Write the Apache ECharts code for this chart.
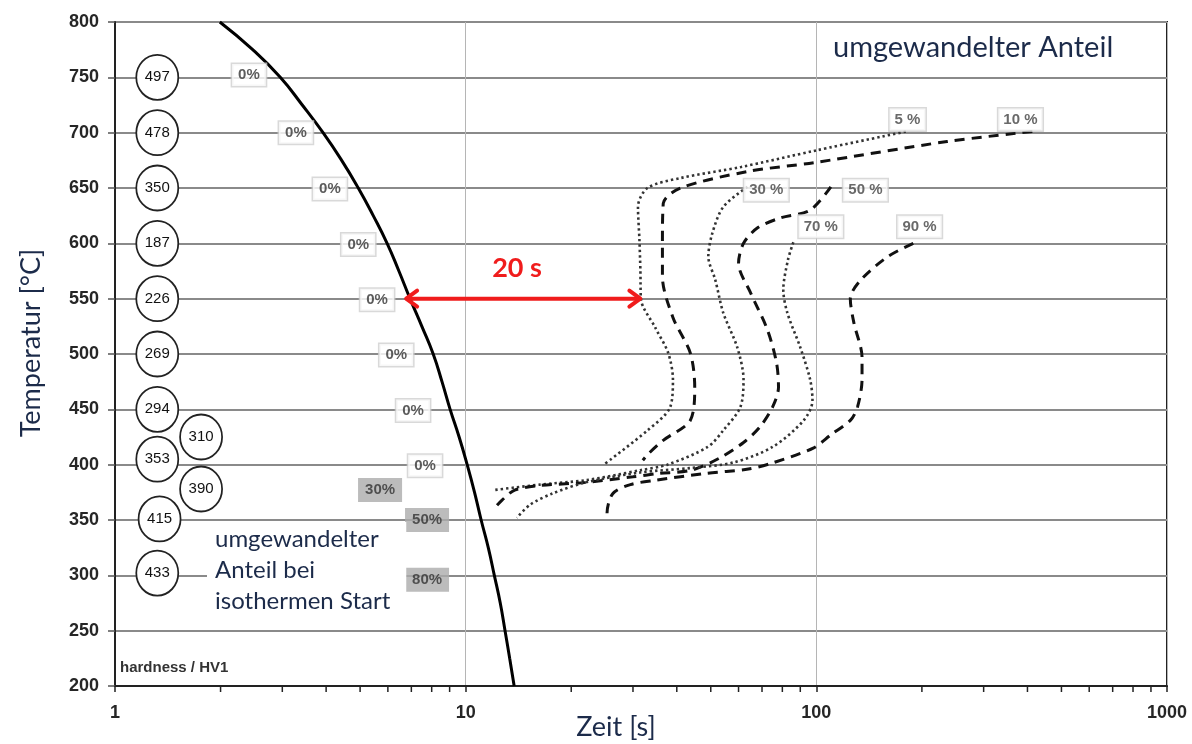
<!DOCTYPE html>
<html>
<head>
<meta charset="utf-8">
<script src="https://cdn.jsdelivr.net/npm/echarts@6/dist/echarts.min.js"></script>
<style>
  html, body { margin: 0; background: #fff; }
  #chart { width: 1192px; height: 744px; }
</style>
</head>
<body>
<div id="chart"></div>
<script>
  // Abkühlkurve (schwarz) und Umwandlungslinien, [Zeit s, Temperatur °C]
  const coolingCurve = [[1.99,800],[2.47,775],[2.96,750],[3.42,725],[3.92,700],[4.43,675],[4.94,650],[5.45,625],[5.97,600],[6.45,575],[6.94,550],[7.5,525],[8.08,500],[8.56,475],[9.03,450],[9.58,425],[10.1,400],[10.6,375],[11.07,350],[11.6,325],[12.07,300],[12.55,275],[12.95,250],[13.35,225],[13.75,200]];
  const curve5 = [[180,701],[100,684],[61,669],[41,659],[33,650],[31,633],[31.3,603],[31.5,575],[31.6,550],[34.7,524],[37.8,501],[39,477],[38.3,452],[33,431],[25,401]];
  const curve10 = [[413,701],[236,692],[99,673],[64,665],[41,650],[36.6,636],[36.4,600],[36.4,570],[39,533],[43.7,501],[45,470],[43.7,440],[36.6,422],[33,409],[32,404]];
  const curve30 = [[63.6,651],[54.3,633],[50.5,609],[49.2,588],[51.5,567],[54.3,537],[59.5,506],[62,477],[60.7,452],[54.3,431],[49,416],[37.6,400],[31.5,395],[22,386],[16.3,382],[12,377]];
  const curve50 = [[110,651],[96,630],[79,623],[68,614],[62,600],[60,582],[65,555],[72.5,522],[77,492],[78,470],[75,452],[69,434],[62,420],[53,406],[44,395],[35.4,392],[30,389],[22,384],[16.1,381],[13.8,377],[12.7,368],[12.1,361]];
  const curve70 = [[86,601],[83,585],[80.5,558],[82.7,537],[90,506],[96,477],[97.5,458],[92,440],[75,416],[58,402],[44,397],[31.5,393],[22,384],[17.7,374],[15.3,364],[14,352]];
  const curve90 = [[189,600],[160,588],[134,567],[125,550],[128,528],[135,497],[135,477],[131,452],[125,440],[110,427],[98,415],[74,401],[64,396],[48,392],[35,386],[29.5,382],[26.3,374],[25.3,356],[25.3,350]];

  // Härtewerte HV1
  const hvTime = [1.32,1.32,1.32,1.32,1.32,1.32,1.32,1.76,1.32,1.76,1.34,1.32];
  const hvTemp = [750,700,650,600,550,500,450,425,405,378,351,302];
  const hvValue = ['497','478','350','187','226','269','294','310','353','390','415','433'];

  // umgewandelter Anteil bei isothermen Start
  const startTime = [2.41,3.28,4.1,4.94,5.59,6.34,7.08,7.66,5.7,7.76,7.76];
  const startTemp = [752,700,649,599,549,499,449,399,377,350,296];
  const startText = ['0%','0%','0%','0%','0%','0%','0%','0%','30%','50%','80%'];

  // Beschriftung der Umwandlungslinien
  const curveLabelTime = [182,382,72,138,103,197];
  const curveLabelTemp = [712,712,648,648,615,615];
  const curveLabelText = ['5 %','10 %','30 %','50 %','70 %','90 %'];

  const arrowFrom = [6.72,550];
  const arrowTo = [31.7,550];

  const minorTicks = [2,3,4,5,6,7,8,9,20,30,40,50,60,70,80,90,200,300,400,500,600,700,800,900];

  const ARIAL = "'Liberation Sans', Arial, sans-serif";
  const CAL = "Lato, 'Open Sans', sans-serif";
  const BLUE = '#1c2b4a';

  const chart = echarts.init(document.getElementById('chart'));

  function dotted(name, data) {
    return {
      name: name, type: 'line', data: data, smooth: 0.3, showSymbol: false, silent: true, z: 3,
      lineStyle: { color: '#333', width: 2.6, type: [2.4, 3], cap: 'butt' }
    };
  }
  function dashed(name, data) {
    return {
      name: name, type: 'line', data: data, smooth: 0.3, showSymbol: false, silent: true, z: 3,
      lineStyle: { color: '#111', width: 3, type: [10, 7] }
    };
  }

  const option = {
    animation: false,
    grid: { left: 115, right: 25, top: 22, bottom: 58, show: true, borderColor: '#222', borderWidth: 2 },
    xAxis: {
      type: 'log', logBase: 10, min: 1, max: 1000,
      axisLine: { lineStyle: { color: '#222', width: 2 } },
      axisTick: { show: true, length: 6, lineStyle: { color: '#222', width: 1.5 } },
      axisLabel: { fontFamily: ARIAL, fontWeight: 'bold', fontSize: 18, color: '#262626', margin: 18,
        formatter: v => String(Math.round(v)) },
      splitLine: { show: true, lineStyle: { color: '#b5b5b5', width: 1 } }
    },
    yAxis: {
      type: 'value', min: 200, max: 800, interval: 50,
      axisLine: { show: true, lineStyle: { color: '#222', width: 2 } },
      axisTick: { show: true, length: 7, lineStyle: { color: '#555', width: 1.5 } },
      axisLabel: { fontFamily: ARIAL, fontWeight: 'bold', fontSize: 18, color: '#262626', margin: 16 },
      splitLine: { show: true, lineStyle: { color: '#8a8a8a', width: 2 } }
    },
    graphic: [
      { type: 'text', left: 833, top: 33, z: 10,
        style: { text: 'umgewandelter Anteil', font: '29px ' + CAL, fill: BLUE } },
      { type: 'text', left: 207, top: 522, z: 10,
        style: { text: 'umgewandelter\nAnteil bei\nisothermen Start', font: '24px ' + CAL, fill: BLUE,
          lineHeight: 31, backgroundColor: '#fff', padding: [2, 16, 2, 8] } },
      { type: 'text', left: 120, top: 660, z: 10,
        style: { text: 'hardness / HV1', font: 'bold 15px ' + ARIAL, fill: '#333' } },
      { type: 'text', x: 31, y: 343, rotation: Math.PI / 2, z: 10,
        style: { text: 'Temperatur [°C]', font: '27px ' + CAL, fill: BLUE, align: 'center', verticalAlign: 'middle' } },
      { type: 'text', x: 616, y: 727, z: 10,
        style: { text: 'Zeit [s]', font: '27px ' + CAL, fill: BLUE, align: 'center', verticalAlign: 'middle' } },
      { type: 'text', x: 517, y: 268, z: 10,
        style: { text: '20 s', font: 'bold 27px ' + CAL, fill: '#f01c1c', align: 'center', verticalAlign: 'middle' } }
    ],
    series: [
      {
        name: 'Abkühlung', type: 'line', data: coolingCurve, smooth: 0.5, showSymbol: false, silent: true, z: 4,
        lineStyle: { color: '#000', width: 3 }
      },
      dotted('5 %', curve5),
      dashed('10 %', curve10),
      dotted('30 %', curve30),
      dashed('50 %', curve50),
      dotted('70 %', curve70),
      dashed('90 %', curve90),
      {
        name: 'Härte', type: 'scatter', silent: true, z: 5,
        symbol: 'circle', symbolSize: [42, 45],
        itemStyle: { color: '#fff', borderColor: '#222', borderWidth: 1.8, opacity: 1 },
        label: { show: true, position: 'inside', formatter: p => p.value[2], fontFamily: ARIAL, fontSize: 15, color: '#111' },
        data: hvTime.map((t, i) => [t, hvTemp[i], hvValue[i]])
      },
      {
        name: 'Start', type: 'scatter', silent: true, z: 5, symbolSize: 0,
        label: { show: true, position: 'inside', formatter: p => p.value[2], fontFamily: ARIAL, fontWeight: 'bold', fontSize: 15, color: '#333' },
        data: startTime.map((t, i) => ({
          value: [t, startTemp[i], startText[i]],
          label: startText[i] === '0%'
            ? { backgroundColor: '#fff', borderColor: '#d0d0d0', borderWidth: 1.5, padding: [4, 6, 3, 6] }
            : { backgroundColor: '#ababab', padding: [5, 7, 4, 7] }
        }))
      },
      {
        name: 'Anteil', type: 'scatter', silent: true, z: 5, symbolSize: 0,
        label: { show: true, position: 'inside', formatter: p => p.value[2], fontFamily: ARIAL, fontWeight: 'bold', fontSize: 15, color: '#444',
          backgroundColor: '#fff', borderColor: '#d0d0d0', borderWidth: 1.5, padding: [4, 5, 3, 5] },
        data: curveLabelTime.map((t, i) => [t, curveLabelTemp[i], curveLabelText[i]])
      },
      {
        name: 'minor', type: 'custom', silent: true, clip: false, z: 6,
        data: minorTicks.map(v => [v, 200]),
        renderItem: (params, api) => {
          const p = api.coord([api.value(0), api.value(1)]);
          return { type: 'line', shape: { x1: p[0], y1: p[1], x2: p[0], y2: p[1] + 6 },
            style: { stroke: '#222', lineWidth: 1.5 } };
        }
      },
      {
        name: 'Pfeil', type: 'custom', silent: true, clip: false, z: 7,
        data: [[arrowFrom[0], arrowFrom[1]]],
        renderItem: (params, api) => {
          const a = api.coord(arrowFrom);
          const b = api.coord(arrowTo);
          const st = { stroke: '#f01c1c', lineWidth: 4, fill: null, lineCap: 'round', lineJoin: 'round' };
          return { type: 'group', children: [
            { type: 'line', shape: { x1: a[0] + 2, y1: a[1], x2: b[0] - 2, y2: b[1] }, style: st },
            { type: 'polyline', shape: { points: [[a[0] + 12, a[1] - 8], [a[0] + 1, a[1]], [a[0] + 12, a[1] + 8]] }, style: st },
            { type: 'polyline', shape: { points: [[b[0] - 12, b[1] - 8], [b[0] - 1, b[1]], [b[0] - 12, b[1] + 8]] }, style: st }
          ] };
        }
      }
    ]
  };

  chart.setOption(option);
</script>
</body>
</html>
